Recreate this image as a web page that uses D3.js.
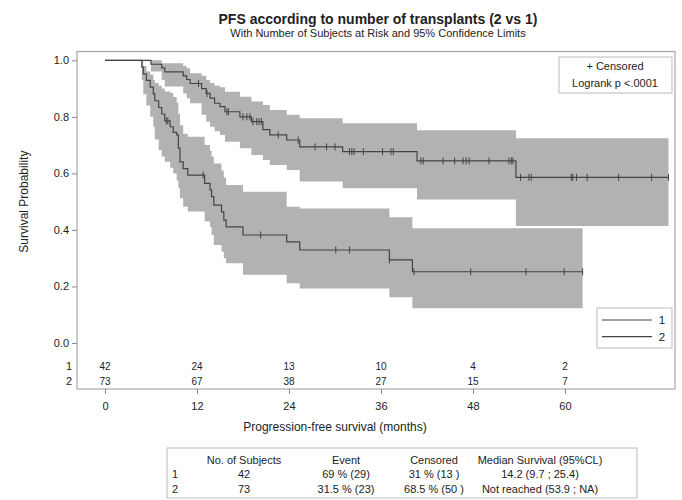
<!DOCTYPE html>
<html>
<head>
<meta charset="utf-8">
<script src="https://d3js.org/d3.v7.min.js"></script>
<style>
    body { margin: 0; background: #fff; }
    text { font-family: "Liberation Sans", Arial, sans-serif; fill: #222; }
</style>
</head>
<body>
<svg id="Target" width="682" height="500"></svg>
<script>
// group 1 (42 subjects) - step times, survival and 95% limits
var g1Time  = [0, 4.8, 5.0, 5.4, 5.9, 6.3, 6.5, 7.0, 7.4, 7.8, 8.5, 8.9, 9.35, 9.57, 9.78, 10.2, 10.8, 13.0, 13.7, 13.9, 14.2, 15.2, 15.5, 15.8, 18.0, 23.7, 25.4, 37.1, 40.1];
var g1Surv  = [1, 0.976, 0.952, 0.929, 0.905, 0.881, 0.857, 0.833, 0.810, 0.786, 0.765, 0.745, 0.736, 0.689, 0.641, 0.617, 0.594, 0.565, 0.542, 0.518, 0.488, 0.464, 0.435, 0.411, 0.382, 0.358, 0.329, 0.294, 0.252];
var g1Lower = [1, 0.93, 0.88, 0.84, 0.80, 0.765, 0.72, 0.683, 0.66, 0.641, 0.62, 0.60, 0.575, 0.547, 0.512, 0.482, 0.465, 0.43, 0.41, 0.382, 0.347, 0.323, 0.30, 0.282, 0.241, 0.211, 0.193, 0.162, 0.123];
var g1Upper = [1, 1, 0.98, 0.96, 0.95, 0.93, 0.92, 0.91, 0.90, 0.89, 0.885, 0.87, 0.85, 0.81, 0.77, 0.74, 0.73, 0.70, 0.68, 0.66, 0.635, 0.61, 0.585, 0.559, 0.535, 0.482, 0.476, 0.445, 0.406];
var g1Censor = [8.0, 8.2, 12.8, 20.3, 30.1, 31.9, 37.1, 40.3, 47.7, 54.9, 59.9, 62.3];
var g1End = 62.3;

// group 2 (73 subjects)
var g2Time  = [0, 6.0, 7.4, 7.8, 10.2, 10.65, 11.1, 12.6, 13.2, 13.7, 14.3, 15.0, 15.65, 17.6, 19.1, 20.6, 21.5, 23.7, 25.4, 31.0, 40.7, 53.6];
var g2Surv  = [1, 0.986, 0.973, 0.959, 0.945, 0.932, 0.918, 0.90, 0.883, 0.866, 0.848, 0.836, 0.818, 0.80, 0.783, 0.755, 0.736, 0.718, 0.694, 0.677, 0.644, 0.586];
var g2Lower = [1, 0.96, 0.93, 0.907, 0.883, 0.866, 0.848, 0.807, 0.783, 0.765, 0.749, 0.736, 0.712, 0.689, 0.665, 0.647, 0.63, 0.612, 0.571, 0.547, 0.508, 0.414];
var g2Upper = [1, 1, 0.99, 0.99, 0.98, 0.972, 0.954, 0.945, 0.93, 0.92, 0.91, 0.905, 0.889, 0.871, 0.854, 0.842, 0.824, 0.807, 0.795, 0.777, 0.753, 0.724];
var g2Censor = [12.2, 13.3, 15.9, 16.1, 18.0, 18.5, 18.9, 19.3, 19.8, 20.1, 20.4, 22.6, 25.2, 27.4, 28.9, 30.0, 31.9, 32.2, 32.5, 33.7, 36.2, 37.3, 37.6, 41.2, 41.5, 44.1, 45.6, 46.7, 47.1, 47.5, 50.1, 52.7, 53.0, 53.2, 54.2, 55.3, 55.6, 60.8, 61.0, 61.5, 62.9, 67.0, 71.3, 73.5];
var g2End = 73.5;

// subjects at risk
var riskTimes = [0, 12, 24, 36, 48, 60];
var atRisk1 = [42, 24, 13, 10, 4, 2];
var atRisk2 = [73, 67, 38, 27, 15, 7];

// summary table
var tableHeader = ["", "No. of Subjects", "Event", "Censored", "Median Survival (95%CL)"];
var tableRow1 = ["1", "42", "69 % (29)", "31 % (13 )", "14.2 (9.7 ; 25.4)"];
var tableRow2 = ["2", "73", "31.5 % (23)", "68.5 % (50 )", "Not reached (53.9 ; NA)"];

var svg = d3.select("#Target");
var frame = { left: 77, right: 675, top: 51.5, bottom: 389 };

var xScale = d3.scaleLinear().domain([-3.65, 74.35]).range([frame.left, frame.right]);
var yScale = d3.scaleLinear().domain([0, 1]).range([343, 60.3]);

var lineColor = "#444";
var bandColor = "#b2b2b2";

// titles
svg.append("text")
    .attr("x", 378).attr("y", 24)
    .attr("text-anchor", "middle")
    .attr("font-size", 14).attr("font-weight", "bold")
    .text("PFS according to number of transplants (2 vs 1)");
svg.append("text")
    .attr("x", 378).attr("y", 37)
    .attr("text-anchor", "middle")
    .attr("font-size", 11)
    .text("With Number of Subjects at Risk and 95% Confidence Limits");

// build series rows
var makeSeries = function (times, surv, lower, upper, end) {
    var rows = times.map(function (t, i) {
        return { t: t, s: surv[i], lo: lower[i], hi: upper[i] };
    });
    var last = rows[rows.length - 1];
    rows.push({ t: end, s: last.s, lo: last.lo, hi: last.hi });
    return rows;
};
var series = [
    { rows: makeSeries(g1Time, g1Surv, g1Lower, g1Upper, g1End), censor: g1Censor },
    { rows: makeSeries(g2Time, g2Surv, g2Lower, g2Upper, g2End), censor: g2Censor }
];

var area = d3.area()
    .curve(d3.curveStepAfter)
    .x(function (d) { return xScale(d.t); })
    .y0(function (d) { return yScale(d.lo); })
    .y1(function (d) { return yScale(d.hi); });
var line = d3.line()
    .curve(d3.curveStepAfter)
    .x(function (d) { return xScale(d.t); })
    .y(function (d) { return yScale(d.s); });

// bands first
svg.selectAll("path.band")
    .data(series)
    .enter()
    .append("path")
    .attr("class", "band")
    .attr("fill", bandColor)
    .attr("d", function (d) { return area(d.rows); });

svg.selectAll("path.km")
    .data(series)
    .enter()
    .append("path")
    .attr("class", "km")
    .attr("fill", "none")
    .attr("stroke", lineColor)
    .attr("stroke-width", 1.2)
    .attr("d", function (d) { return line(d.rows); });

// censor marks
var bisect = d3.bisector(function (d) { return d.t; }).right;
series.forEach(function (sr) {
    svg.selectAll(null)
        .data(sr.censor)
        .enter()
        .append("line")
        .attr("stroke", lineColor)
        .attr("stroke-width", 1)
        .attr("x1", function (c) { return xScale(c); })
        .attr("x2", function (c) { return xScale(c); })
        .attr("y1", function (c) { return yScale(sr.rows[bisect(sr.rows, c) - 1].s) - 3.5; })
        .attr("y2", function (c) { return yScale(sr.rows[bisect(sr.rows, c) - 1].s) + 3.5; });
});

// frame
svg.append("rect")
    .attr("x", frame.left).attr("y", frame.top)
    .attr("width", frame.right - frame.left)
    .attr("height", frame.bottom - frame.top)
    .attr("fill", "none")
    .attr("stroke", "#a8a8a8")
    .attr("stroke-width", 1.2);

// axes
var yAxis = svg.append("g")
    .attr("transform", "translate(" + frame.left + ",0)")
    .call(d3.axisLeft(yScale)
        .tickValues([0, 0.2, 0.4, 0.6, 0.8, 1.0])
        .tickFormat(d3.format(".1f"))
        .tickSize(5).tickPadding(3));
var xAxis = svg.append("g")
    .attr("transform", "translate(0," + frame.bottom + ")")
    .call(d3.axisBottom(xScale)
        .tickValues(riskTimes)
        .tickSize(5).tickPadding(8));
[yAxis, xAxis].forEach(function (ax) {
    ax.select(".domain").remove();
    ax.selectAll("line").attr("stroke", "#888");
    ax.selectAll("text").attr("font-size", 11).attr("font-family", "Liberation Sans, Arial, sans-serif").attr("fill", "#222");
});

svg.append("text")
    .attr("transform", "translate(24," + yScale(0.5) + ") rotate(-90)")
    .attr("text-anchor", "middle")
    .attr("dy", "0.35em")
    .attr("font-size", 12)
    .text("Survival Probability");
svg.append("text")
    .attr("x", xScale(30)).attr("y", 431)
    .attr("text-anchor", "middle")
    .attr("font-size", 12)
    .text("Progression-free survival (months)");

// at-risk rows
[{ label: "1", values: atRisk1, y: 366 }, { label: "2", values: atRisk2, y: 381 }].forEach(function (row) {
    svg.append("text")
        .attr("x", 72).attr("y", row.y)
        .attr("dy", "0.35em")
        .attr("text-anchor", "end")
        .attr("font-size", 11)
        .text(row.label);
    svg.selectAll(null)
        .data(row.values)
        .enter()
        .append("text")
        .attr("x", function (d, i) { return xScale(riskTimes[i]); })
        .attr("y", row.y)
        .attr("dy", "0.35em")
        .attr("text-anchor", "middle")
        .attr("font-size", 10)
        .text(function (d) { return d; });
});

// censored / logrank box
var info = svg.append("g");
info.append("rect")
    .attr("x", 559).attr("y", 57).attr("width", 113).attr("height", 36)
    .attr("fill", "#fff").attr("stroke", "#bbb");
info.append("text")
    .attr("x", 615).attr("y", 66).attr("dy", "0.35em")
    .attr("text-anchor", "middle").attr("font-size", 11)
    .text("+ Censored");
info.append("text")
    .attr("x", 615).attr("y", 83).attr("dy", "0.35em")
    .attr("text-anchor", "middle").attr("font-size", 11)
    .text("Logrank p <.0001");

// line legend
var legend = svg.append("g");
legend.append("rect")
    .attr("x", 597).attr("y", 308).attr("width", 75).attr("height", 40)
    .attr("fill", "#fff").attr("stroke", "#bbb");
["1", "2"].forEach(function (name, i) {
    var ly = 320 + i * 16.7;
    legend.append("line")
        .attr("x1", 602).attr("x2", 652)
        .attr("y1", ly).attr("y2", ly)
        .attr("stroke", lineColor).attr("stroke-width", 1.2);
    legend.append("text")
        .attr("x", 662).attr("y", ly).attr("dy", "0.35em")
        .attr("text-anchor", "middle").attr("font-size", 11.5)
        .text(name);
});

// summary table
var table = svg.append("g");
table.append("rect")
    .attr("x", 167).attr("y", 448).attr("width", 470).attr("height", 50)
    .attr("fill", "#fff").attr("stroke", "#bbb");
var colX = [172, 244, 346, 434, 540];
[tableHeader, tableRow1, tableRow2].forEach(function (row, r) {
    table.selectAll(null)
        .data(row)
        .enter()
        .append("text")
        .attr("x", function (d, i) { return colX[i]; })
        .attr("y", 460 + r * 14.5)
        .attr("dy", "0.35em")
        .attr("text-anchor", function (d, i) { return i === 0 ? "start" : "middle"; })
        .attr("font-size", 11)
        .text(function (d) { return d; });
});
</script>
</body>
</html>
